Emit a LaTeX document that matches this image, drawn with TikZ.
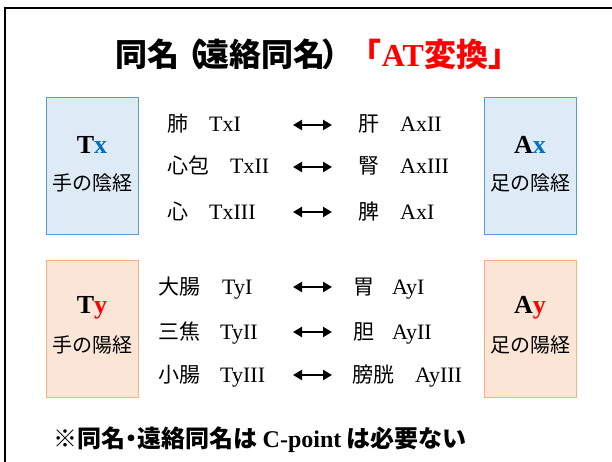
\documentclass[tikz,border=0pt]{standalone}
\usepackage{fontspec}
\setmainfont{Liberation Serif}
\newfontfamily\jp{Noto Sans CJK JP}
\usetikzlibrary{arrows.meta}
\definecolor{txblue}{HTML}{0070C0}
\definecolor{bfill}{HTML}{DEEBF7}
\definecolor{bline}{HTML}{5B9BD5}
\definecolor{ofill}{HTML}{FBE5D6}
\definecolor{oline}{HTML}{F4B183}
\definecolor{tred}{HTML}{FF0000}
\newcommand{\narrow}[2]{\hbox to #1{\hss#2\hss}}
\tikzset{
  panel/.style={minimum width=92pt,minimum height=137pt,inner sep=0pt,line width=0.8pt},
  bluebox/.style={panel,draw=bline,fill=bfill},
  orangebox/.style={panel,draw=oline,fill=ofill},
  bigtag/.style={inner sep=0pt,font=\bfseries\fontsize{26}{28}\selectfont},
  jptag/.style={inner sep=0pt,font=\jp\fontsize{20}{22}\selectfont},
  cjk/.style={anchor=base west,inner sep=0pt,font=\jp\fontsize{21}{23}\selectfont},
  lat/.style={anchor=base west,inner sep=0pt,font=\fontsize{22}{24}\selectfont},
  dbl/.style={line width=2.8pt,{Triangle[length=9pt,width=10pt]}-{Triangle[length=9pt,width=10pt]}}
}
\begin{document}
\begin{tikzpicture}[x=1pt,y=1pt]
\useasboundingbox (0,0) rectangle (612,-462);
\clip (0,0) rectangle (612,-462);
\draw[line width=2.5pt] (5,-8) rectangle (640,-490);

\node[inner sep=0pt] (title) at (318,-54) {\jp\bfseries\fontsize{32}{35}\selectfont 同名\narrow{18pt}{（}遠絡同名\narrow{24pt}{）}\textcolor{tred}{「{\rmfamily\bfseries AT}変換」}};

% boxes
\node[bluebox] (tx) at (92,-165.5) {};
\node[bluebox] (ax) at (530,-165.5) {};
\node[orangebox] (ty) at (92,-328.5) {};
\node[orangebox] (ay) at (530,-328.5) {};

\node[bigtag] (txl) at (92,-145) {T\textcolor{txblue}{x}};
\node[jptag] (txj) at (92,-183) {手の陰経};
\node[bigtag] (axl) at (530,-145) {A\textcolor{txblue}{x}};
\node[jptag] (axj) at (530,-183) {足の陰経};
\node[bigtag] (tyl) at (92,-308) {T\textcolor{tred}{y}};
\node[jptag] (tyj) at (92,-345) {手の陽経};
\node[bigtag] (ayl) at (530,-308) {A\textcolor{tred}{y}};
\node[jptag] (ayj) at (530,-345) {足の陽経};

% upper rows
\node[cjk] (a1) at (167,-132) {肺};
\node[lat] (b1) at (209,-132) {TxI};
\node[cjk] (c1) at (358,-132) {肝};
\node[lat] (d1) at (400,-132) {AxII};
\node[cjk] (a2) at (167,-174) {心包};
\node[lat] (b2) at (230,-174) {TxII};
\node[cjk] (c2) at (358,-174) {腎};
\node[lat] (d2) at (400,-174) {AxIII};
\node[cjk] (a3) at (167,-219) {心};
\node[lat] (b3) at (209,-219) {TxIII};
\node[cjk] (c3) at (358,-219) {脾};
\node[lat] (d3) at (400,-219) {AxI};

% lower rows
\node[cjk] (a4) at (158,-294) {大腸};
\node[lat] (b4) at (222,-294) {TyI};
\node[cjk] (c4) at (353,-294) {胃};
\node[lat] (d4) at (392,-294) {AyI};
\node[cjk] (a5) at (158,-339) {三焦};
\node[lat] (b5) at (220,-339) {TyII};
\node[cjk] (c5) at (353,-339) {胆};
\node[lat] (d5) at (392,-339) {AyII};
\node[cjk] (a6) at (158,-382) {小腸};
\node[lat] (b6) at (220,-382) {TyIII};
\node[cjk] (c6) at (352,-382) {膀胱};
\node[lat] (d6) at (415,-382) {AyIII};

% arrows
\foreach \n/\y in {1/125,2/167,3/212,4/287,5/332,6/375}{
  \coordinate (l\n) at (293,-\y);
  \coordinate (r\n) at (332,-\y);
  \draw[dbl] (l\n) -- (r\n);
}

\node[anchor=west,inner sep=0pt] (note) at (53,-440) {\jp\bfseries\fontsize{24}{26}\selectfont ※同名\narrow{12pt}{・}遠絡同名は {\rmfamily\bfseries C-point} は必要ない};
\end{tikzpicture}
\end{document}
